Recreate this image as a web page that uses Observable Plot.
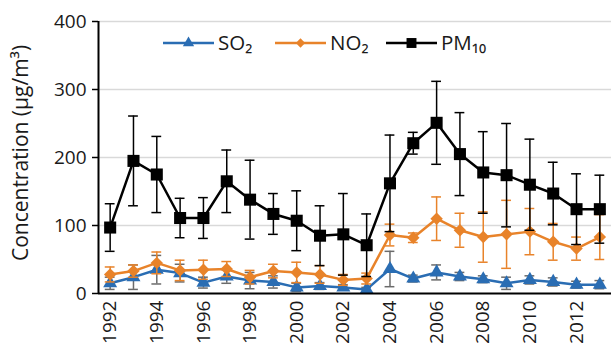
<!DOCTYPE html>
<html><head><meta charset="utf-8">
<script src="https://cdn.jsdelivr.net/npm/d3@7"></script>
<script src="https://cdn.jsdelivr.net/npm/@observablehq/plot@0.6"></script>
<style>body{margin:0;background:#fff;} #chart svg{display:block;}</style>
</head><body><div id="chart"></div>
<script>
const years = [1992,1993,1994,1995,1996,1997,1998,1999,2000,2001,2002,2003,2004,2005,2006,2007,2008,2009,2010,2011,2012,2013];
const so2     = [15,24,35,30,16,25,19,17,9,11,9,6,36,22,31,25,21,15,20,17,13,13];
const so2Err  = [9,18,21,13,8,10,12,9,6,5,4,3,26,5,11,6,5,9,6,6,5,6];
const no2     = [28,33,45,34,35,36,24,33,31,28,20,22,86,82,110,93,83,87,91,76,66,83];
const no2Err  = [11,9,16,15,14,11,10,10,15,13,8,8,16,7,32,25,37,50,34,27,17,33];
const pm10    = [97,195,175,111,111,165,138,117,107,85,87,71,162,221,251,205,178,174,160,147,124,124];
const pm10Err = [35,66,56,29,30,46,58,30,44,44,60,46,71,16,61,61,60,76,67,46,52,50];
const seriesNames = ["SO₂","NO₂","PM₁₀"];
const seriesColors = ["#2a6db3","#e8832a","#000000"];
const errColors = ["#6b6b6b","#e8832a","#000000"];
const seriesSymbols = ["triangle","diamond2","square"];
const seriesR = [5.2,5.6,6.8];
const legendR = [4.2,4.2,5.6];
const yTicks = [0,100,200,300,400];
const xTicks = [1992,1994,1996,1998,2000,2002,2004,2006,2008,2010,2012];
const yLabel = "Concentration (μg/m³)";

const values = [so2,no2,pm10], errs = [so2Err,no2Err,pm10Err];
const xDomain = [years[0]-0.5, years[years.length-1]+0.5];
const cap = 0.21;
const tickFont = 19;

const marks = [
  Plot.ruleY(yTicks.slice(1), {stroke:"#d9d9d9", strokeWidth:1.3}),
];
values.forEach((vals,k)=>{
  const data = years.map((yr,i)=>({year:yr, v:vals[i], e:errs[k][i]}));
  marks.push(
    Plot.ruleX(data, {x:"year", y1:d=>d.v-d.e, y2:d=>d.v+d.e, stroke:errColors[k], strokeWidth:1.5}),
    Plot.ruleY(data, {y:d=>d.v+d.e, x1:d=>d.year-cap, x2:d=>d.year+cap, stroke:errColors[k], strokeWidth:1.5}),
    Plot.ruleY(data, {y:d=>d.v-d.e, x1:d=>d.year-cap, x2:d=>d.year+cap, stroke:errColors[k], strokeWidth:1.5}),
    Plot.line(data, {x:"year", y:"v", stroke:seriesColors[k], strokeWidth:2.5}),
    Plot.dot(data, {x:"year", y:"v", symbol:seriesSymbols[k], r:seriesR[k], fill:seriesColors[k], stroke:null})
  );
});
marks.push(
  Plot.axisY({ticks:yTicks, tickSize:6, tickPadding:6, label:null, stroke:"#000", strokeWidth:1.5, fill:"#1a1a1a", fontSize:tickFont}),
  Plot.axisX({ticks:xTicks, tickFormat:d=>String(d), tickRotate:-90, tickSize:0, tickPadding:7, label:null, fill:"#1a1a1a", fontSize:tickFont}),
  Plot.ruleY([yTicks[0]], {stroke:"#000", strokeWidth:2}),
  Plot.ruleX([xDomain[0]], {y1:yTicks[0], y2:yTicks[yTicks.length-1], stroke:"#000", strokeWidth:2})
);

const chart = Plot.plot({
  width:611, height:346,
  marginLeft:98, marginRight:0, marginTop:21, marginBottom:53,
  style:{fontFamily:"'Open Sans', sans-serif", fontSize:"19px", background:"#fff", overflow:"visible"},
  x:{type:"linear", domain:xDomain},
  y:{domain:[0,400]},
  marks
});
document.getElementById("chart").appendChild(chart);

// Y-axis title and in-plot legend
const svg = d3.select(chart);
svg.append("text")
  .attr("transform","translate(21,153) rotate(-90)")
  .attr("text-anchor","middle").attr("dy","0.35em")
  .attr("fill","#1a1a1a").style("font-size","21px")
  .text(yLabel);
const legX = [163,275,386];
const lg = svg.append("g");
seriesNames.forEach((name,k)=>{
  const g = lg.append("g").attr("transform",`translate(${legX[k]},43)`);
  g.append("line").attr("x1",0).attr("x2",51).attr("stroke",seriesColors[k]).attr("stroke-width",2.5);
  const sym = {triangle:d3.symbolTriangle, diamond2:d3.symbolDiamond2, square:d3.symbolSquare}[seriesSymbols[k]];
  g.append("path").attr("transform","translate(25.5,0)")
    .attr("d", d3.symbol(sym, Math.PI*legendR[k]*legendR[k])()).attr("fill",seriesColors[k]);
  g.append("text").attr("x",55).attr("dy","0.36em").attr("text-anchor","start")
    .attr("fill","#1a1a1a").style("font-size","20.5px").text(name);
});
</script>
</body></html>
